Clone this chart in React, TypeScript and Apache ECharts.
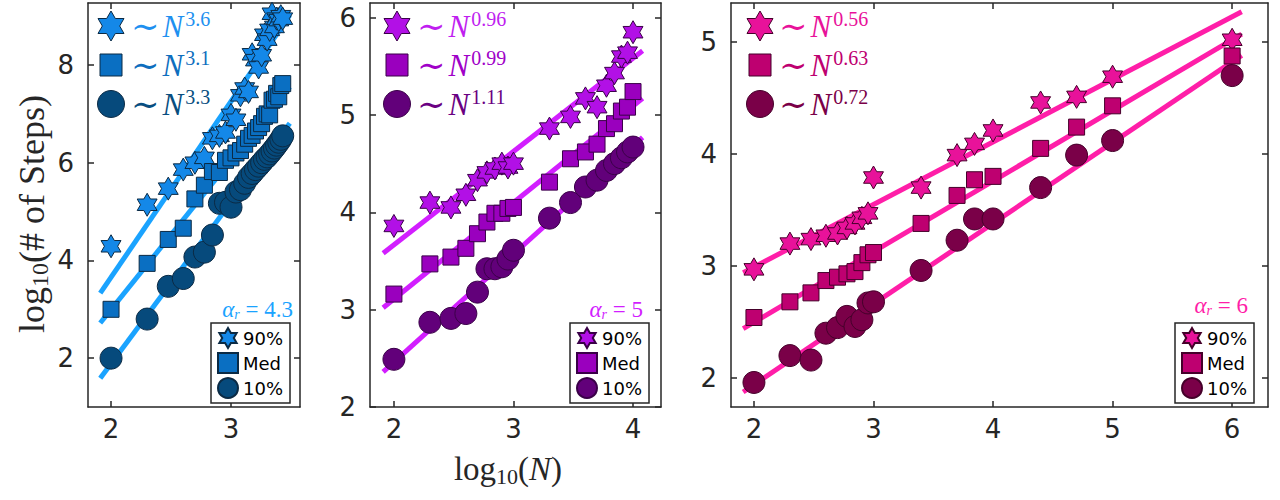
import React, { useEffect, useRef } from "react";
import * as echarts from "echarts";

// ---------- Data (log10 N, log10 steps) ----------
// Panel 1: alpha_r = 4.3
const p1X = [2, 2.301, 2.477, 2.602, 2.699, 2.778, 2.845, 2.903, 2.954, 3, 3.041, 3.079, 3.114, 3.146, 3.176, 3.204, 3.23, 3.255, 3.279, 3.301, 3.322, 3.342, 3.362, 3.38, 3.398, 3.415, 3.431];
const p1Star = [4.29, 5.14, 5.47, 5.86, 6.0, 6.1, 6.5, 6.55, 6.62, 6.98, 6.88, 7.38, 7.52, 7.45, 8.22, 8.1, 7.95, 8.2, 8.62, 8.52, 8.72, 9.05, 8.78, 8.95, 8.92, 9.0, 8.95];
const p1Med = [3.0, 3.94, 4.43, 4.66, 5.26, 5.54, 5.82, 5.8, 6.05, 6.1, 6.2, 6.25, 6.38, 6.5, 6.56, 6.65, 6.72, 6.8, 6.95, 7.0, 6.98, 7.28, 7.3, 7.42, 7.35, 7.58, 7.62];
const p1Low = [2.0, 2.8, 3.47, 3.63, 4.07, 4.17, 4.52, 5.17, 5.19, 5.09, 5.4, 5.45, 5.58, 5.7, 5.78, 5.86, 5.93, 6.0, 6.07, 6.12, 6.18, 6.24, 6.3, 6.36, 6.42, 6.48, 6.55];
const p1FitStar = [[1.91, 3.33], [3.49, 9.02]];
const p1FitMed = [[1.91, 2.72], [3.49, 7.55]];
const p1FitLow = [[1.91, 1.59], [3.49, 6.81]];

// Panel 2: alpha_r = 5
const p2X = [2, 2.301, 2.477, 2.602, 2.699, 2.778, 2.845, 2.903, 2.954, 3, 3.301, 3.477, 3.602, 3.699, 3.778, 3.845, 3.903, 3.954, 4];
const p2Star = [3.86, 4.1, 4.05, 4.18, 4.33, 4.41, 4.45, 4.5, 4.46, 4.5, 4.86, 4.98, 5.17, 5.08, 5.3, 5.43, 5.6, 5.64, 5.85];
const p2Med = [3.16, 3.47, 3.54, 3.63, 3.78, 3.9, 3.99, 3.99, 4.04, 4.05, 4.31, 4.55, 4.62, 4.7, 4.86, 4.91, 5.04, 5.08, 5.24];
const p2Low = [2.49, 2.87, 2.91, 2.96, 3.18, 3.42, 3.42, 3.44, 3.52, 3.61, 3.94, 4.1, 4.26, 4.33, 4.43, 4.5, 4.56, 4.62, 4.67];
const p2FitStar = [[1.91, 3.58], [4.08, 5.66]];
const p2FitMed = [[1.91, 3.02], [4.08, 5.17]];
const p2FitLow = [[1.91, 2.36], [4.08, 4.77]];

// Panel 3: alpha_r = 6
const p3X = [2, 2.301, 2.477, 2.602, 2.699, 2.778, 2.845, 2.903, 2.954, 3, 3.398, 3.699, 3.845, 4, 4.398, 4.699, 5, 6];
const p3Star = [2.97, 3.2, 3.24, 3.27, 3.29, 3.34, 3.38, 3.43, 3.47, 3.79, 3.7, 3.99, 4.09, 4.21, 4.46, 4.51, 4.69, 5.02];
const p3Med = [2.54, 2.68, 2.76, 2.87, 2.9, 2.93, 2.95, 3.03, 3.1, 3.12, 3.38, 3.63, 3.77, 3.8, 4.05, 4.24, 4.43, 4.875];
const p3Low = [1.96, 2.2, 2.16, 2.4, 2.45, 2.55, 2.46, 2.52, 2.67, 2.68, 2.96, 3.23, 3.42, 3.42, 3.7, 3.99, 4.12, 4.7];
const p3FitStar = [[1.91, 2.94], [6.08, 5.27]];
const p3FitMed = [[1.91, 2.44], [6.08, 5.07]];
const p3FitLow = [[1.91, 1.875], [6.08, 4.88]];

const exponents = [["3.6", "3.1", "3.3"], ["0.96", "0.99", "1.11"], ["0.56", "0.63", "0.72"]];
const alphaLabels = ["4.3", "5", "6"];
const legendNames = ["90%", "Med", "10%"];

const xTicks1 = [2, 3];
const xTicks2 = [2, 3, 4];
const xTicks3 = [2, 3, 4, 5, 6];
const yTicks1 = [2, 4, 6, 8];
const yTicks2 = [2, 3, 4, 5, 6];
const yTicks3 = [2, 3, 4, 5];

// ---------- Styles ----------
const SANS = "'DejaVu Sans', sans-serif";
const SERIF = "'Liberation Serif', 'DejaVu Serif', serif";
const AX = "#262626";
const STAR_PATH =
  "path://M100,0 L128.87,50 L186.6,50 L157.74,100 L186.6,150 L128.87,150 L100,200 L71.13,150 L13.4,150 L42.26,100 L13.4,50 L71.13,50 Z";

const panels = [
  {
    grid: { left: 88, top: 3, width: 212, height: 404 },
    x: [1.808, 3.575], y: [1.0, 9.27], xt: xTicks1, yt: yTicks1,
    line: "#1AA3FF",
    fills: ["#1488E8", "#0A6FC2", "#064A7C"],
    texts: ["#1E90F0", "#0E6EBE", "#084E80"],
    edge: "#0B2A44",
    legendPos: [211, 323], topLeft: [111, 131], alphaPos: [293, 309],
  },
  {
    grid: { left: 370, top: 3, width: 291, height: 404 },
    x: [1.8, 4.234], y: [2.0, 6.15], xt: xTicks2, yt: yTicks2,
    line: "#D21EFF",
    fills: ["#B210E6", "#9A00BE", "#62007A"],
    texts: ["#C01EF0", "#A000C8", "#6A0082"],
    edge: "#3A0048",
    legendPos: [570, 323], topLeft: [397, 417], alphaPos: [643, 309],
  },
  {
    grid: { left: 731, top: 3, width: 537, height: 404 },
    x: [1.808, 6.3], y: [1.741, 5.348], xt: xTicks3, yt: yTicks3,
    line: "#FF1EA8",
    fills: ["#E8129A", "#BE0070", "#7A0048"],
    texts: ["#E8129A", "#BE0070", "#7A0048"],
    edge: "#45002A",
    legendPos: [1175, 323], topLeft: [760, 779], alphaPos: [1248, 305],
  },
];

const dataSets = [
  { xs: p1X, ys: [p1Star, p1Med, p1Low], fits: [p1FitStar, p1FitMed, p1FitLow] },
  { xs: p2X, ys: [p2Star, p2Med, p2Low], fits: [p2FitStar, p2FitMed, p2FitLow] },
  { xs: p3X, ys: [p3Star, p3Med, p3Low], fits: [p3FitStar, p3FitMed, p3FitLow] },
];

function hexagram(cx: number, cy: number, r: number) {
  const pts: number[][] = [];
  for (let i = 0; i < 12; i++) {
    const a = -Math.PI / 2 + (i * Math.PI) / 6;
    const rr = i % 2 === 0 ? r : r / Math.sqrt(3);
    pts.push([cx + rr * Math.cos(a), cy + rr * Math.sin(a)]);
  }
  return pts;
}

function axisBase(min: number, max: number, ticks: number[], gi: number, pos: string, showLabel: boolean) {
  return {
    type: "value",
    gridIndex: gi,
    min,
    max,
    position: pos,
    axisLine: { show: true, onZero: false, lineStyle: { color: AX, width: 1.5 } },
    axisTick: { show: true, inside: true, length: 6, customValues: ticks, lineStyle: { color: AX, width: 1.5 } },
    axisLabel: {
      show: showLabel,
      customValues: ticks,
      fontSize: 26,
      color: AX,
      fontFamily: SANS,
      margin: pos === "bottom" ? 9 : 14,
    },
    splitLine: { show: false },
  };
}

export default function App() {
  const ref = useRef<HTMLDivElement>(null);
  useEffect(() => {
    if (!ref.current) return;
    const chart = echarts.init(ref.current, null, { renderer: "svg" });

    const grids: any[] = [];
    const xAxes: any[] = [];
    const yAxes: any[] = [];
    const series: any[] = [];
    const legends: any[] = [];
    const graphics: any[] = [];
    const symbols = [STAR_PATH, "rect", "circle"];
    const sizes = [[23, 23], [16, 16], [22, 22]];

    panels.forEach((p, gi) => {
      grids.push({ ...p.grid, outerBoundsMode: "none", containLabel: false });
      xAxes.push(axisBase(p.x[0], p.x[1], p.xt, gi, "bottom", true));
      xAxes.push(axisBase(p.x[0], p.x[1], p.xt, gi, "top", false));
      yAxes.push(axisBase(p.y[0], p.y[1], p.yt, gi, "left", true));
      yAxes.push(axisBase(p.y[0], p.y[1], p.yt, gi, "right", false));
      const ds = dataSets[gi];
      ds.fits.forEach((f, k) => {
        series.push({
          type: "line",
          name: "fit" + gi + k,
          xAxisIndex: 2 * gi,
          yAxisIndex: 2 * gi,
          data: f,
          symbol: "none",
          silent: true,
          lineStyle: { color: p.line, width: 5 },
          z: 2,
        });
      });
      const names: string[] = [];
      ds.ys.forEach((ys, k) => {
        const name = legendNames[k] + "|" + gi;
        names.push(name);
        series.push({
          type: "scatter",
          name,
          xAxisIndex: 2 * gi,
          yAxisIndex: 2 * gi,
          data: ds.xs.map((x, i) => [x, ys[i]]),
          symbol: symbols[k],
          symbolSize: sizes[k],
          symbolKeepAspect: true,
          itemStyle: { color: p.fills[k], borderColor: p.edge, borderWidth: 1, opacity: 1 },
          z: 3,
        });
      });
      legends.push({
        data: names,
        selectedMode: false,
        orient: "vertical",
        left: p.legendPos[0],
        top: p.legendPos[1],
        itemWidth: 20,
        itemHeight: 20,
        itemGap: 3,
        itemTextGap: 6,
        padding: [4, 7, 4, 6],
        borderColor: AX,
        borderWidth: 1.5,
        borderRadius: 0,
        backgroundColor: "#ffffff",
        textStyle: { fontSize: 18, color: "#000", fontFamily: SANS },
        formatter: (n: string) => n.split("|")[0],
      });

      // top-left exponent legend
      const mx = p.topLeft[0];
      const tx = p.topLeft[1];
      const rows = [26, 65, 104];
      graphics.push({
        type: "polygon",
        shape: { points: hexagram(mx, rows[0], 15) },
        style: { fill: p.fills[0], stroke: p.edge, lineWidth: 1 },
        z: 10,
      });
      graphics.push({
        type: "rect",
        shape: { x: mx - 11, y: rows[1] - 11, width: 22, height: 22 },
        style: { fill: p.fills[1], stroke: p.edge, lineWidth: 1 },
        z: 10,
      });
      graphics.push({
        type: "circle",
        shape: { cx: mx, cy: rows[2], r: 13.5 },
        style: { fill: p.fills[2], stroke: p.edge, lineWidth: 1 },
        z: 10,
      });
      exponents[gi].forEach((e, k) => {
        const c = p.texts[k];
        graphics.push({
          type: "text",
          x: tx,
          y: rows[k],
          z: 10,
          style: {
            text: "{t|∼}{n|N}{s|" + e + "}",
            align: "left",
            verticalAlign: "middle",
            rich: {
              t: { fontSize: 34, fontFamily: "'DejaVu Serif', serif", fill: c, lineHeight: 34, padding: [0, 3, 0, 0] },
              n: { fontSize: 31, fontFamily: SERIF, fontStyle: "italic", fill: c, lineHeight: 34, padding: [0, 2, 0, 0] },
              s: { fontSize: 20, fontFamily: SERIF, fill: c, lineHeight: 20, verticalAlign: "top" },
            },
          },
        });
      });

      graphics.push({
        type: "text",
        x: p.alphaPos[0],
        y: p.alphaPos[1],
        z: 10,
        style: {
          text: "{a|α}{r|r}{b| = " + alphaLabels[gi] + "}",
          align: "right",
          verticalAlign: "middle",
          rich: {
            a: { fontSize: 23, fontFamily: SERIF, fontStyle: "italic", fill: p.line, lineHeight: 24 },
            r: { fontSize: 14, fontFamily: SERIF, fontStyle: "italic", fill: p.line, lineHeight: 12, verticalAlign: "bottom" },
            b: { fontSize: 23, fontFamily: SERIF, fill: p.line, lineHeight: 24 },
          },
        },
      });
    });

    graphics.push({
      type: "text",
      x: 508,
      y: 469,
      z: 10,
      style: {
        text: "{a|log}{s|10}{a|(}{i|N}{a|)}",
        align: "center",
        verticalAlign: "middle",
        rich: {
          a: { fontSize: 33, fontFamily: SERIF, fill: "#262626", lineHeight: 36 },
          i: { fontSize: 33, fontFamily: SERIF, fontStyle: "italic", fill: "#262626", lineHeight: 36 },
          s: { fontSize: 22, fontFamily: SERIF, fill: "#262626", lineHeight: 26, verticalAlign: "bottom" },
        },
      },
    });
    graphics.push({
      type: "text",
      x: 32,
      y: 214,
      rotation: Math.PI / 2,
      z: 10,
      style: {
        text: "{a|log}{s|10}{a|(# of Steps)}",
        align: "center",
        verticalAlign: "middle",
        rich: {
          a: { fontSize: 36, fontFamily: SERIF, fill: "#262626", lineHeight: 40 },
          s: { fontSize: 24, fontFamily: SERIF, fill: "#262626", lineHeight: 28, verticalAlign: "bottom" },
        },
      },
    });

    chart.setOption({
      animation: false,
      backgroundColor: "#ffffff",
      grid: grids,
      xAxis: xAxes,
      yAxis: yAxes,
      legend: legends,
      series,
      graphic: { elements: graphics },
    });
    return () => chart.dispose();
  }, []);
  return (
    <div
      ref={ref}
      style={{ position: "fixed", left: 0, top: 0, width: 1280, height: 500, background: "#fff" }}
    />
  );
}
